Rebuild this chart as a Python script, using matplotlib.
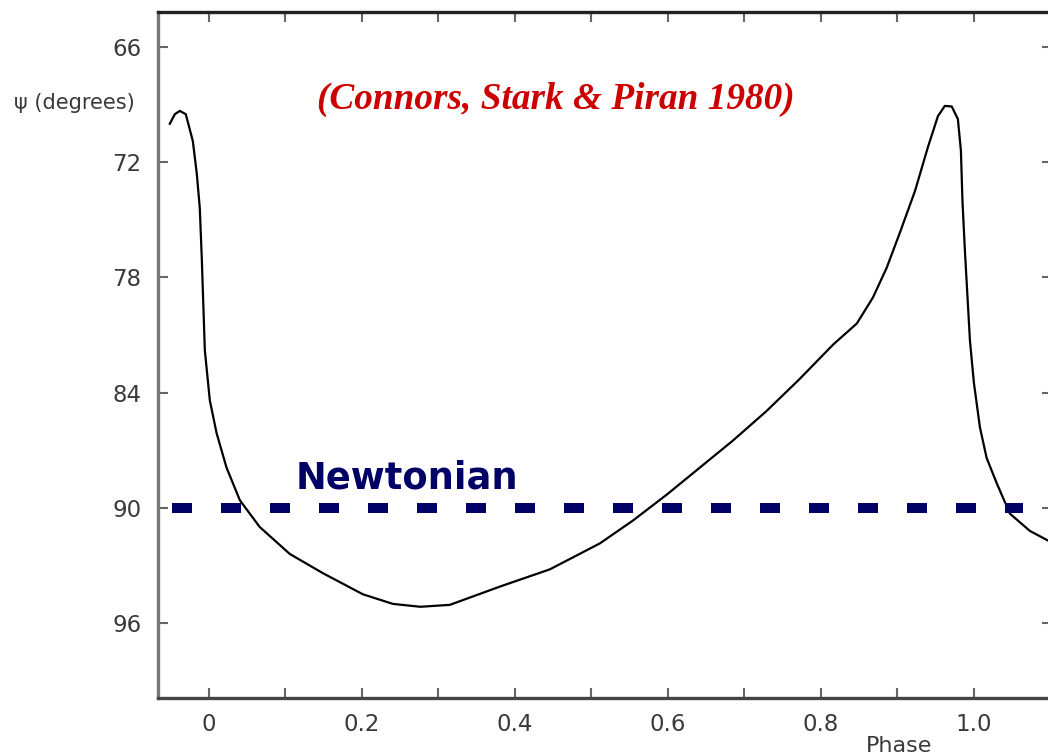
import matplotlib
matplotlib.use("Agg")
import matplotlib.pyplot as plt
import numpy as np

# Data
phase = [-0.0506, -0.0440, -0.0375, -0.0297, -0.0205, -0.0153, -0.0114, -0.0088,
         -0.0074, -0.0048, 0.0017, 0.0105, 0.0235, 0.0409, 0.0670, 0.1062,
         0.1494, 0.2017, 0.2409, 0.2766, 0.3153, 0.3806, 0.4460, 0.5113,
         0.5545, 0.5990, 0.6420, 0.6850, 0.7290, 0.7720, 0.8160, 0.8470,
         0.8680, 0.8860, 0.9030, 0.9230, 0.9400, 0.9530, 0.9620, 0.9710,
         0.9790, 0.9830, 0.9850, 0.9882, 0.9948, 1.0000, 1.0078, 1.0166,
         1.0296, 1.0470, 1.0731, 1.0967]
psi = [70.0, 69.5, 69.33, 69.5, 70.9, 72.6, 74.4, 77.0,
       78.7, 81.8, 84.4, 86.1, 87.9, 89.6, 91.0, 92.4,
       93.4, 94.5, 95.0, 95.15, 95.05, 94.1, 93.2, 91.85,
       90.66, 89.3, 87.9, 86.5, 84.96, 83.3, 81.5, 80.4,
       79.05, 77.5, 75.7, 73.5, 71.2, 69.6, 69.07, 69.1,
       69.75, 71.4, 74.0, 76.6, 81.3, 83.5, 85.8, 87.4,
       88.7, 90.3, 91.2, 91.7]

newtonian_psi = 90
newtonian_range = [-0.048, 1.064]

yticks = [66, 72, 78, 84, 90, 96]
xticks_major = [0, 0.2, 0.4, 0.6, 0.8, 1.0]
xtick_labels = ["0", "0.2", "0.4", "0.6", "0.8", "1.0"]
xticks_minor = [-0.1 + 0.1 * i for i in range(13)]

W, H = 1048, 756
fig = plt.figure(figsize=(W / 100, H / 100), dpi=100)
ax = fig.add_axes([158 / W, 1 - 698 / H, (1052 - 158) / W, (698 - 12) / H])

ax.plot(phase, psi, color="black", lw=1.6, solid_joinstyle="round")
ax.plot(newtonian_range, [newtonian_psi, newtonian_psi], color="#000066",
        lw=7.2, dashes=(2.0, 2.9), solid_capstyle="butt", dash_capstyle="butt")

ax.set_xlim(-0.066, 1.102)
ax.set_ylim(99.9, 64.18)

tick_color = "#3a3a3a"
ax.set_yticks(yticks)
ax.set_yticklabels([str(v) for v in yticks])
ax.set_xticks(xticks_major)
ax.set_xticklabels(xtick_labels)
ax.set_xticks([t for t in xticks_minor if -0.066 < t < 1.102], minor=True)
ax.tick_params(axis="both", which="both", direction="in", length=7, width=1.5,
               color="#666666", labelcolor=tick_color, labelsize=16.5,
               top=True, right=True)
ax.tick_params(axis="x", which="major", pad=11)
ax.tick_params(axis="y", which="major", pad=12)

for side, c in [("left", "#777777"), ("bottom", "#444444"), ("top", "#222222"), ("right", "#444444")]:
    ax.spines[side].set_color(c)
    ax.spines[side].set_linewidth(2.4)

ax.text(0.114, 88.97, "Newtonian", color="#000066", fontsize=26.5,
        fontweight="bold", family="DejaVu Sans", va="baseline", ha="left")
ax.text(0.4535, 69.23, "(Connors, Stark & Piran 1980)", color="#cc0000",
        fontsize=26.8, fontweight="bold", fontstyle="italic",
        family="Liberation Serif", va="baseline", ha="center")

fig.text(14 / W, 1 - 103 / H, "ψ (degrees)", fontsize=15, color=tick_color,
         va="center", ha="left")
fig.text(866 / W, 1 - 746 / H, "Phase", fontsize=16, color=tick_color,
         va="center", ha="left")

fig.savefig("out.png", dpi=100)
